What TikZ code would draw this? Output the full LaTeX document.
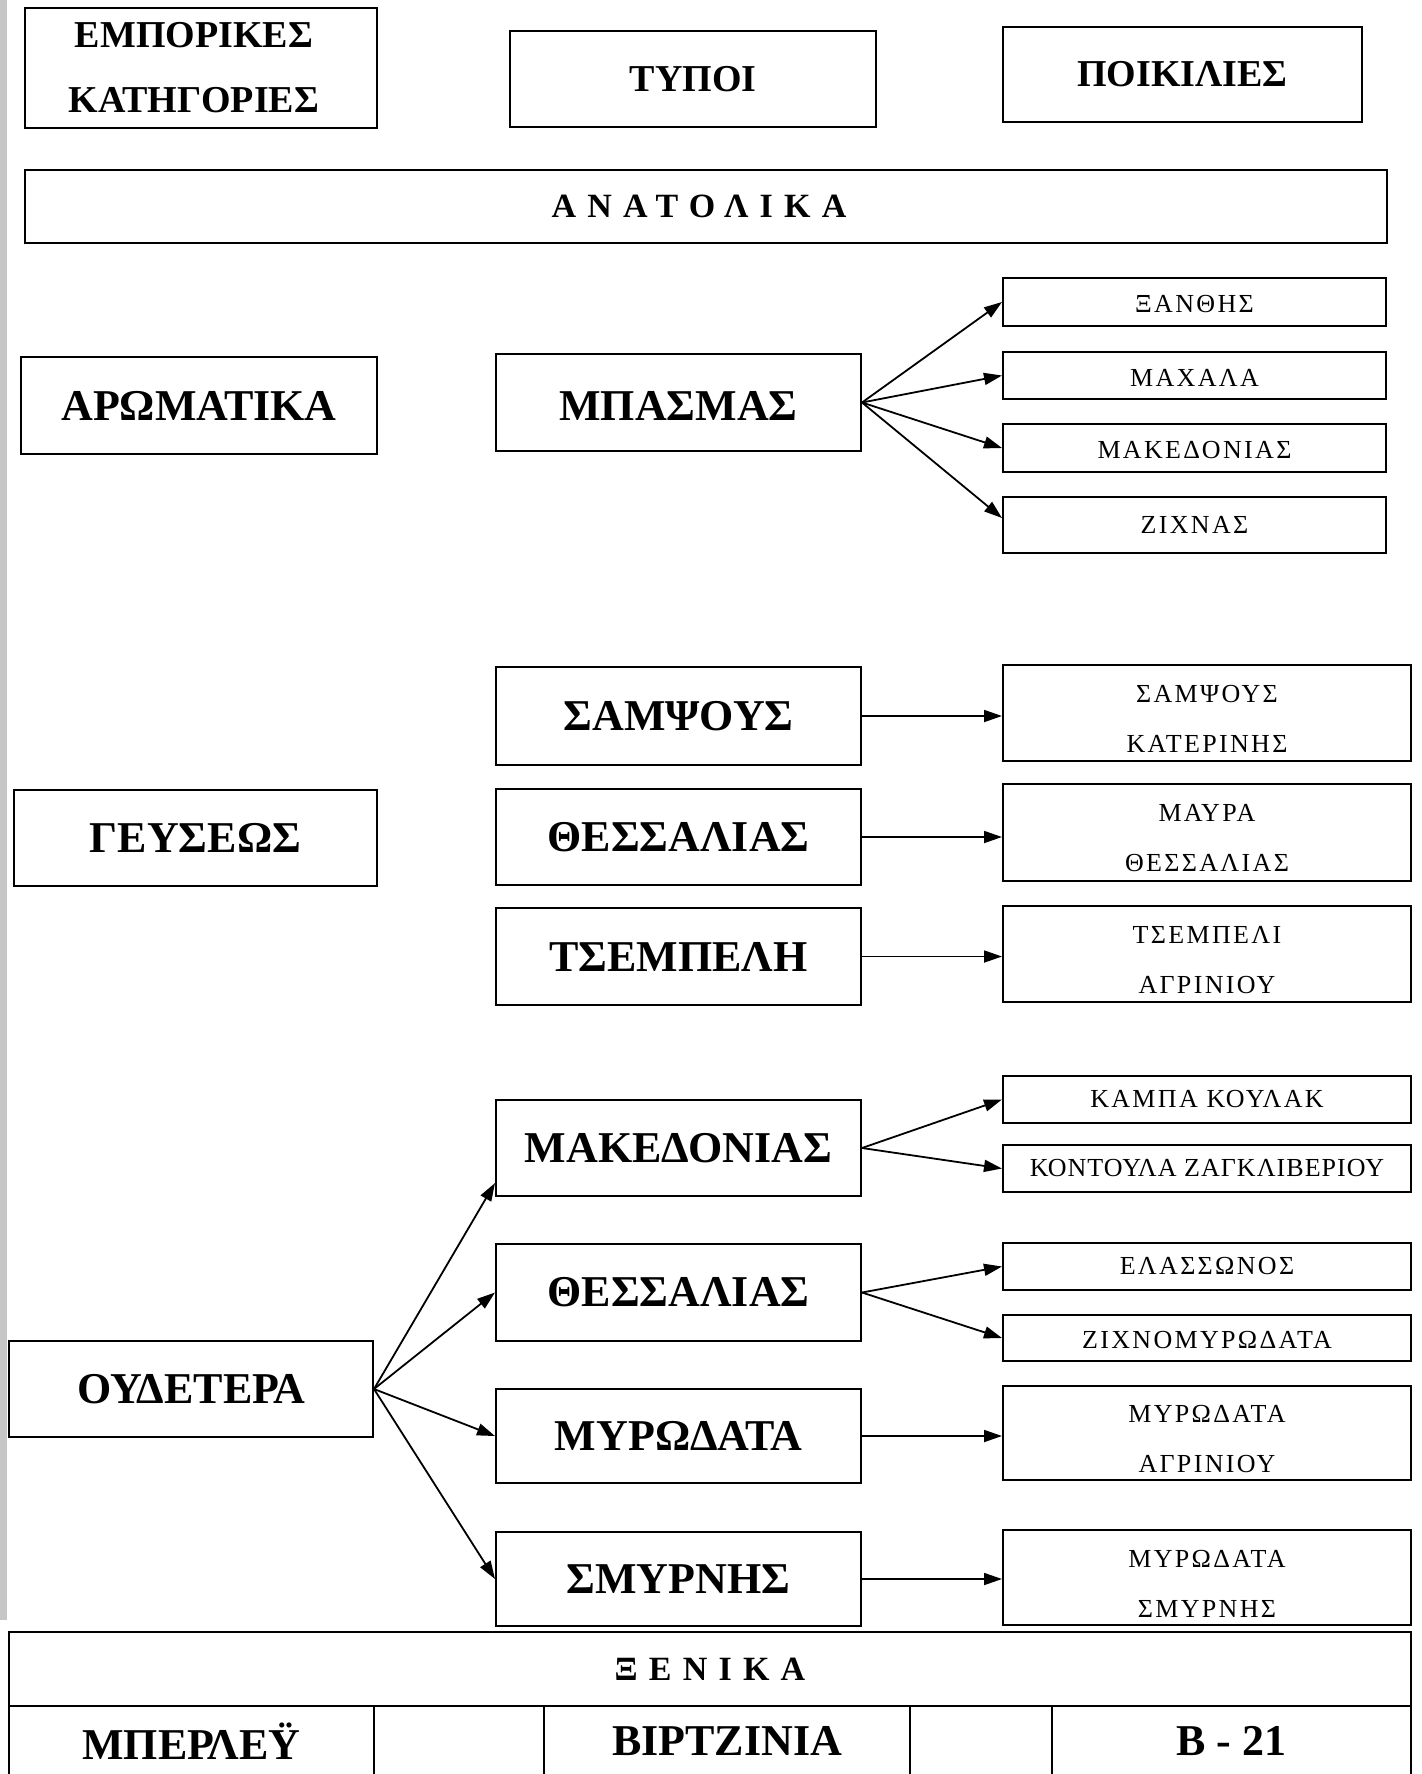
\documentclass[tikz,border=0pt]{standalone}
\usepackage{fontspec}
\setmainfont{Liberation Serif}
\newfontfamily\spacedfont{Liberation Serif}[LetterSpace=33]
\newfontfamily\varfont{Liberation Serif}[LetterSpace=9]
\newcommand\lowr{\rule{0pt}{14.5pt}}
\usetikzlibrary{arrows.meta,calc}
\begin{document}
\begin{tikzpicture}[x=0.5pt,y=-0.5pt,
  box/.style={draw, line width=1pt, inner sep=0pt, align=center},
  hdr/.style={box, font=\fontsize{19}{32.5}\selectfont\bfseries},
  cat/.style={box, font=\fontsize{22}{26}\selectfont\bfseries},
  var/.style={box, font={\fontsize{13}{25}\varfont}},
  band/.style={box, font={\fontsize{17}{20}\spacedfont\bfseries}},
  arr/.style={-{Triangle[length=9pt,width=6pt]}, line width=0.9pt}
]
\useasboundingbox (0,0) rectangle (1422,1774);
\fill[gray!45] (0,0) rectangle (7,1620);

% headers
\node[hdr, minimum width=176pt, minimum height=60pt] (emp) at (201,68) {ΕΜΠΟΡΙΚΕΣ\hspace*{7pt}\\ΚΑΤΗΓΟΡΙΕΣ\hspace*{7pt}};
\node[hdr, minimum width=183pt, minimum height=48pt] (typ) at (693,79) {ΤΥΠΟΙ};
\node[hdr, minimum width=179.5pt, minimum height=47.5pt] (poik) at (1182.5,74.5) {ΠΟΙΚΙΛΙΕΣ};
\node[band, minimum width=681pt, minimum height=36.5pt] (anat) at (706,206.5) {ΑΝΑΤΟΛΙΚΑ\kern7pt};

% aromatika
\node[cat, minimum width=178pt, minimum height=48.5pt] (arom) at (199,405.5) {ΑΡΩΜΑΤΙΚΑ};
\node[cat, minimum width=182.5pt, minimum height=48.5pt] (mpas) at (678.5,402.5) {\rule{0pt}{18pt}ΜΠΑΣΜΑΣ};
\node[var, minimum width=191.5pt, minimum height=24pt] (xan) at (1194.5,302) {\rule{0pt}{11pt}ΞΑΝΘΗΣ};
\node[var, minimum width=191.5pt, minimum height=23.5pt] (mach) at (1194.5,375.5) {\rule{0pt}{11pt}ΜΑΧΑΛΑ};
\node[var, minimum width=191.5pt, minimum height=24pt] (makv) at (1194.5,448) {\rule{0pt}{11pt}ΜΑΚΕΔΟΝΙΑΣ};
\node[var, minimum width=191.5pt, minimum height=28pt] (zix) at (1194.5,525) {ΖΙΧΝΑΣ};

% geuseos
\node[cat, minimum width=181.5pt, minimum height=48pt] (geus) at (195.5,838) {ΓΕΥΣΕΩΣ};
\node[cat, minimum width=182.5pt, minimum height=49pt] (sam) at (678.5,716) {ΣΑΜΨΟΥΣ};
\node[cat, minimum width=182.5pt, minimum height=48pt] (thes1) at (678.5,837) {ΘΕΣΣΑΛΙΑΣ};
\node[cat, minimum width=182.5pt, minimum height=48.5pt] (tsem) at (678.5,956.5) {ΤΣΕΜΠΕΛΗ};
\node[var, minimum width=204pt, minimum height=48pt] (samv) at (1207,713) {\lowr ΣΑΜΨΟΥΣ\\ΚΑΤΕΡΙΝΗΣ};
\node[var, minimum width=204pt, minimum height=48.5pt] (mav) at (1207,832.5) {\lowr ΜΑΥΡΑ\\ΘΕΣΣΑΛΙΑΣ};
\node[var, minimum width=204pt, minimum height=48pt] (tsemv) at (1207,954) {\lowr ΤΣΕΜΠΕΛΙ\\ΑΓΡΙΝΙΟΥ};

% oudetera
\node[cat, minimum width=182pt, minimum height=48pt] (oud) at (191,1389) {ΟΥΔΕΤΕΡΑ};
\node[cat, minimum width=182.5pt, minimum height=48pt] (mak) at (678.5,1148) {ΜΑΚΕΔΟΝΙΑΣ};
\node[cat, minimum width=182.5pt, minimum height=48.5pt] (thes2) at (678.5,1292.5) {ΘΕΣΣΑΛΙΑΣ};
\node[cat, minimum width=182.5pt, minimum height=47pt] (myr) at (678.5,1436) {ΜΥΡΩΔΑΤΑ};
\node[cat, minimum width=182.5pt, minimum height=47pt] (smyr) at (678.5,1579) {ΣΜΥΡΝΗΣ};
\node[var, minimum width=204pt, minimum height=23.5pt] (kampa) at (1207,1099.5) {ΚΑΜΠΑ ΚΟΥΛΑΚ};
\node[var, minimum width=204pt, minimum height=23.5pt] (kont) at (1207,1168.5) {\addfontfeature{LetterSpace=4}ΚΟΝΤΟΥΛΑ ΖΑΓΚΛΙΒΕΡΙΟΥ};
\node[var, minimum width=204pt, minimum height=23.5pt] (elas) at (1207,1266.5) {ΕΛΑΣΣΩΝΟΣ};
\node[var, minimum width=204pt, minimum height=23pt] (zixm) at (1207,1338) {\rule{0pt}{11pt}ΖΙΧΝΟΜΥΡΩΔΑΤΑ};
\node[var, minimum width=204pt, minimum height=47pt] (myrv) at (1207,1433) {\lowr ΜΥΡΩΔΑΤΑ\\ΑΓΡΙΝΙΟΥ};
\node[var, minimum width=204pt, minimum height=47.5pt] (smyrv) at (1207,1577.5) {\lowr ΜΥΡΩΔΑΤΑ\\ΣΜΥΡΝΗΣ};

% xenika
\node[band, minimum width=701pt, minimum height=37pt] (xen) at (710,1669) {ΞΕΝΙΚΑ};
\node[cat, minimum width=182.5pt, minimum height=35pt] (c1) at (191.5,1741) {ΜΠΕΡΛΕΫ};
\node[box, minimum width=85pt, minimum height=35pt] (c2) at (459,1741) {};
\node[cat, minimum width=183pt, minimum height=35pt] (c3) at (727,1741) {ΒΙΡΤΖΙΝΙΑ};
\node[box, minimum width=71pt, minimum height=35pt] (c4) at (981,1741) {};
\node[cat, minimum width=179.5pt, minimum height=35pt] (c5) at (1231.5,1741) {Β - 21};

% arrows
\draw[arr] (mpas.east) -- (xan.west);
\draw[arr] (mpas.east) -- (mach.west);
\draw[arr] (mpas.east) -- (makv.west);
\draw[arr] (mpas.east) -- ($(zix.west)+(0,-7)$);

\draw[arr] (sam.east) -- (sam.east -| samv.west);
\draw[arr] (thes1.east) -- (thes1.east -| mav.west);
\draw[arr] (tsem.east) -- (tsem.east -| tsemv.west);

\draw[arr] (oud.east) -- ($(mak.south west)+(0,-14)$);
\draw[arr] (oud.east) -- (thes2.west);
\draw[arr] (oud.east) -- (myr.west);
\draw[arr] (oud.east) -- (smyr.west);

\draw[arr] (mak.east) -- (kampa.west);
\draw[arr] (mak.east) -- (kont.west);
\draw[arr] (thes2.east) -- (elas.west);
\draw[arr] (thes2.east) -- (zixm.west);
\draw[arr] (myr.east) -- (myr.east -| myrv.west);
\draw[arr] (smyr.east) -- (smyr.east -| smyrv.west);
\end{tikzpicture}
\end{document}
